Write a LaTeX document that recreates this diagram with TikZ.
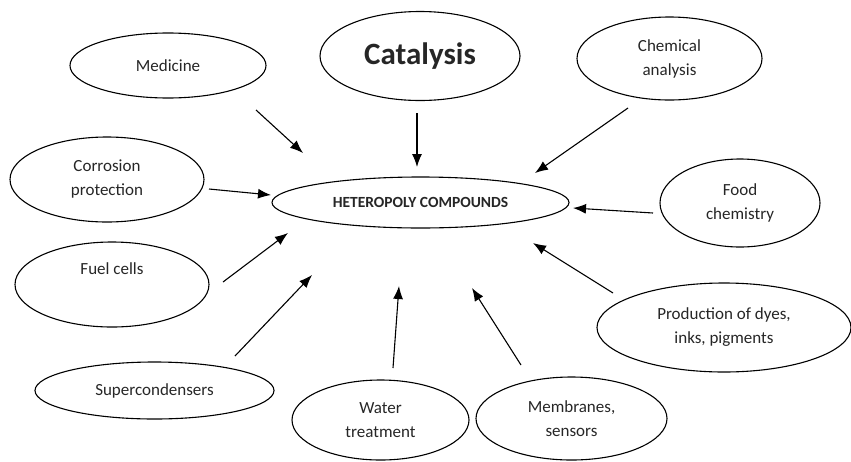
\documentclass[tikz,border=0pt]{standalone}
\usepackage{fontspec}
\setmainfont{Carlito}
\usetikzlibrary{shapes.geometric,arrows.meta}
\begin{document}
\begin{tikzpicture}[x=1pt,y=-1pt,
  oval/.style={draw, ellipse, line width=1.1pt, inner sep=0pt, align=center,
    font=\fontsize{17}{24}\selectfont, text=black!85},
  conn/.style={line width=1.1pt, -{Latex[length=13pt,width=10pt]}}]
\useasboundingbox (0,0) rectangle (851,461);
\node[oval, minimum width=196pt, minimum height=65pt] (med) at (168,65.5) {Medicine};
\node[oval, minimum width=200pt, minimum height=89pt, font=\bfseries\fontsize{31}{36}\selectfont] (cat) at (420,56) {Catalysis};
\node[oval, minimum width=185pt, minimum height=83pt] (chem) at (669.5,58.5) {Chemical\\analysis};
\node[oval, minimum width=194pt, minimum height=85pt] (cor) at (107,179.5) {Corrosion\\protection};
\node[oval, minimum width=297pt, minimum height=51pt, font=\bfseries\fontsize{15.5}{18}\selectfont] (hub) at (420.5,202.5) {HETEROPOLY COMPOUNDS};
\node[oval, minimum width=160pt, minimum height=88pt] (food) at (740,203) {Food\\chemistry};
\node[oval, minimum width=194pt, minimum height=85pt] (fuel) at (112,284.5) {Fuel cells\\\strut};
\node[oval, minimum width=254pt, minimum height=89pt] (dyes) at (724,327.5) {Production of dyes,\\inks, pigments};
\node[oval, minimum width=239pt, minimum height=57pt] (sup) at (154.5,390.5) {Supercondensers};
\node[oval, minimum width=177pt, minimum height=80pt] (wat) at (380.5,420) {Water\\treatment};
\node[oval, minimum width=191pt, minimum height=83pt] (mem) at (571.5,418.5) {Membranes,\\sensors};

\coordinate (m1) at (256,110); \coordinate (m2) at (303,153);
\coordinate (c1) at (417,113); \coordinate (c2) at (417,167);
\coordinate (h1) at (628,108); \coordinate (h2) at (535,173);
\coordinate (r1) at (209,189); \coordinate (r2) at (271,195);
\coordinate (f1) at (653,213); \coordinate (f2) at (573,208);
\coordinate (u1) at (223,282); \coordinate (u2) at (288,233);
\coordinate (s1) at (235,356); \coordinate (s2) at (312,275);
\coordinate (w1) at (393,368); \coordinate (w2) at (399,286);
\coordinate (b1) at (521,365); \coordinate (b2) at (472,288);
\coordinate (d1) at (613,293); \coordinate (d2) at (533,243);
\draw[conn] (m1) -- (m2);
\draw[conn] (c1) -- (c2);
\draw[conn] (h1) -- (h2);
\draw[conn] (r1) -- (r2);
\draw[conn] (f1) -- (f2);
\draw[conn] (u1) -- (u2);
\draw[conn] (s1) -- (s2);
\draw[conn] (w1) -- (w2);
\draw[conn] (b1) -- (b2);
\draw[conn] (d1) -- (d2);
\end{tikzpicture}
\end{document}
